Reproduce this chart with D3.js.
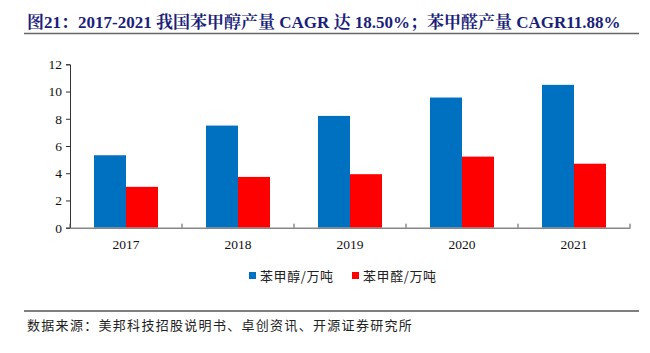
<!DOCTYPE html>
<html><head><meta charset="utf-8">
<script src="https://cdn.jsdelivr.net/npm/d3@7"></script>
<style>body{margin:0;background:#fff}svg{display:block}</style>
</head><body>
<svg id="c" width="650" height="353"></svg>
<script>
const categories = ["2017","2018","2019","2020","2021"];
const benzylAlcohol = [5.32, 7.5, 8.21, 9.56, 10.49];
const benzaldehyde = [3.0, 3.73, 3.93, 5.22, 4.7];
const seriesNames = ["苯甲醇/万吨","苯甲醛/万吨"];
const seriesColors = ["#0070C0","#FF0000"];
const yTicks = [0,2,4,6,8,10,12];
const title = "图21：2017-2021 我国苯甲醇产量 CAGR 达 18.50%；苯甲醛产量 CAGR11.88%";
const source = "数据来源：美邦科技招股说明书、卓创资讯、开源证券研究所";

const svg = d3.select("#c");
const mLeft = 70, mRight = 630, mTop = 64.3, mBottom = 227.7;
const x = d3.scaleBand().domain(categories).range([mLeft, mRight]).paddingInner(0).paddingOuter(0);
const inner = d3.scaleBand().domain([0,1]).range([0, 64]);
const y = d3.scaleLinear().domain([0,12]).range([mBottom, mTop]);

// title
svg.append("text").attr("x",27).attr("y",28)
  .attr("font-family","'Liberation Serif','Noto Serif CJK SC','Noto Sans CJK SC',serif")
  .attr("font-weight","bold").attr("font-size",17).attr("fill","#1B1F7A").text(title);
svg.append("line").attr("x1",24).attr("x2",639).attr("y1",33.5).attr("y2",33.5)
  .attr("stroke","#666").attr("stroke-width",1.5);

// bars
const data = categories.map((c,i)=>[benzylAlcohol[i], benzaldehyde[i]]);
const g = svg.append("g");
categories.forEach((c,i)=>{
  data[i].forEach((v,j)=>{
    g.append("rect")
      .attr("x", x(c) + (x.bandwidth()-64)/2 + inner(j))
      .attr("y", y(v)).attr("width", inner.bandwidth()).attr("height", y(0)-y(v))
      .attr("fill", seriesColors[j]);
  });
});

// y axis
const ya = svg.append("g").attr("transform",`translate(${mLeft},0)`)
  .call(d3.axisLeft(y).tickValues(yTicks).tickSize(4).tickPadding(4));
ya.select(".domain").attr("stroke","#333");
ya.selectAll(".tick line").attr("stroke","#333");
ya.selectAll("text").attr("font-family","'Liberation Serif',serif").attr("font-size",13.5).attr("fill","#111");

// x axis
const xa = svg.append("g").attr("transform",`translate(0,${mBottom})`)
  .call(d3.axisBottom(x).tickSize(0).tickPadding(12));
xa.select(".domain").attr("stroke","#888").attr("stroke-width",1.5);
xa.selectAll("text").attr("font-family","'Liberation Serif',serif").attr("font-size",13.5).attr("fill","#111");
const bounds = categories.map(c=>x(c)).concat([mRight]);
svg.append("g").selectAll("line").data(bounds).join("line")
  .attr("x1",d=>d).attr("x2",d=>d).attr("y1",mBottom).attr("y2",mBottom-4)
  .attr("stroke","#555").attr("stroke-width",1);

// legend
const lx = [249, 352];
seriesNames.forEach((n,i)=>{
  svg.append("rect").attr("x",lx[i]).attr("y",272).attr("width",7).attr("height",7).attr("fill",seriesColors[i]);
  svg.append("text").attr("x",lx[i]+11).attr("y",280.5)
    .attr("font-family","'Noto Sans CJK SC',sans-serif").attr("font-size",13).attr("letter-spacing",0.6)
    .attr("fill","#222").text(n);
});

// source
svg.append("line").attr("x1",24).attr("x2",639).attr("y1",311).attr("y2",311)
  .attr("stroke","#555").attr("stroke-width",1.3);
svg.append("text").attr("x",27).attr("y",330)
  .attr("font-family","'Noto Sans CJK SC',sans-serif").attr("font-size",13).attr("letter-spacing",1.3)
  .attr("fill","#222").text(source);
</script>
</body></html>
